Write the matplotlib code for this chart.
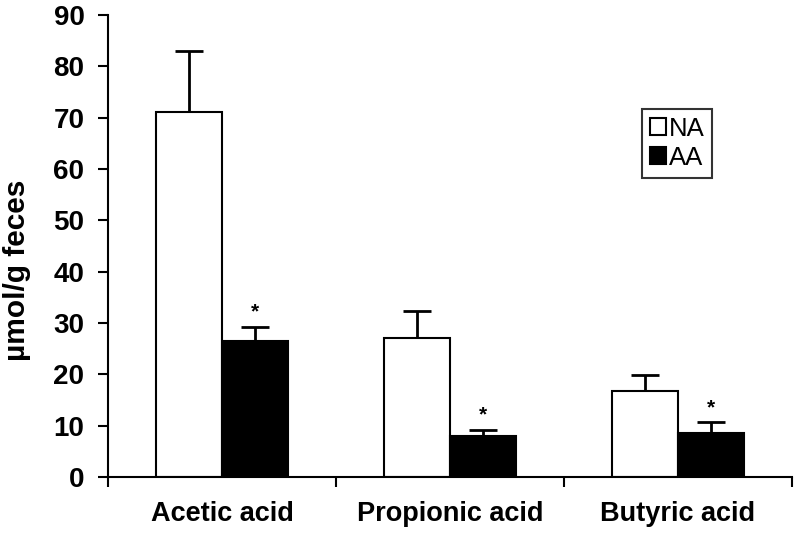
import matplotlib
matplotlib.use("Agg")
import matplotlib.pyplot as plt
import numpy as np

categories = ["Acetic acid", "Propionic acid", "Butyric acid"]
na_values = [71.2, 27.1, 16.8]
na_err = [11.7, 5.2, 3.1]
aa_values = [26.5, 8.0, 8.6]
aa_err = [2.8, 1.2, 2.1]
yticks = [0, 10, 20, 30, 40, 50, 60, 70, 80, 90]

plt.rcParams['font.family'] = ['Liberation Sans', 'DejaVu Sans']

fig = plt.figure(figsize=(7.97, 5.33), dpi=100)
ax = fig.add_axes([108/797, 1 - 477/533, (792-108)/797, (477-15)/533])

x = np.arange(len(categories))
w = 0.29
ax.bar(x - w/2, na_values, w, color='white', edgecolor='black', linewidth=1.5, label='NA', zorder=2)
ax.bar(x + w/2, aa_values, w, color='black', edgecolor='black', linewidth=1.5, label='AA', zorder=2)
ax.errorbar(x - w/2, na_values, yerr=[np.zeros(3), na_err], fmt='none', ecolor='black',
            elinewidth=2, capsize=10, capthick=2, zorder=1)
ax.errorbar(x + w/2, aa_values, yerr=[np.zeros(3), aa_err], fmt='none', ecolor='black',
            elinewidth=2, capsize=10, capthick=2, zorder=1)
for xi, v, e in zip(x + w/2, aa_values, aa_err):
    ax.text(xi, v + e + 1.0, '*', ha='center', va='bottom', fontsize=15, fontweight='bold')

ax.set_xlim(-0.5, 2.5)
ax.set_ylim(0, 90)
ax.set_yticks(yticks)
ax.set_yticklabels([str(t) for t in yticks], fontsize=20, fontweight='bold')
ax.set_xticks(x)
ax.set_xticklabels(categories, fontsize=19.5, fontweight='bold')
ax.tick_params(axis='x', length=0, pad=17)
ax.set_xticks([-0.5, 0.5, 1.5, 2.5], minor=True)
ax.tick_params(axis='x', which='minor', length=7, width=1.5, direction='out')
ax.tick_params(axis='y', length=7, width=1.5, direction='out', pad=10)
ax.spines['top'].set_visible(False)
ax.spines['right'].set_visible(False)
ax.spines['left'].set_linewidth(1.5)
ax.spines['bottom'].set_linewidth(1.5)
ax.set_ylabel('µmol/g feces', fontsize=21.5, fontweight='bold')
ax.yaxis.set_label_coords(-(108-31)/684, (477-270)/462)

leg = ax.legend(loc='upper left', bbox_to_anchor=((642-108)/684, (477-109)/462),
                fontsize=18.5, frameon=True, fancybox=False, edgecolor='black',
                handlelength=0.62, handleheight=0.62, handletextpad=0.12,
                borderpad=0.3, labelspacing=0.2, borderaxespad=0)
leg.get_frame().set_linewidth(1.5)

fig.savefig('out.png', dpi=100)
